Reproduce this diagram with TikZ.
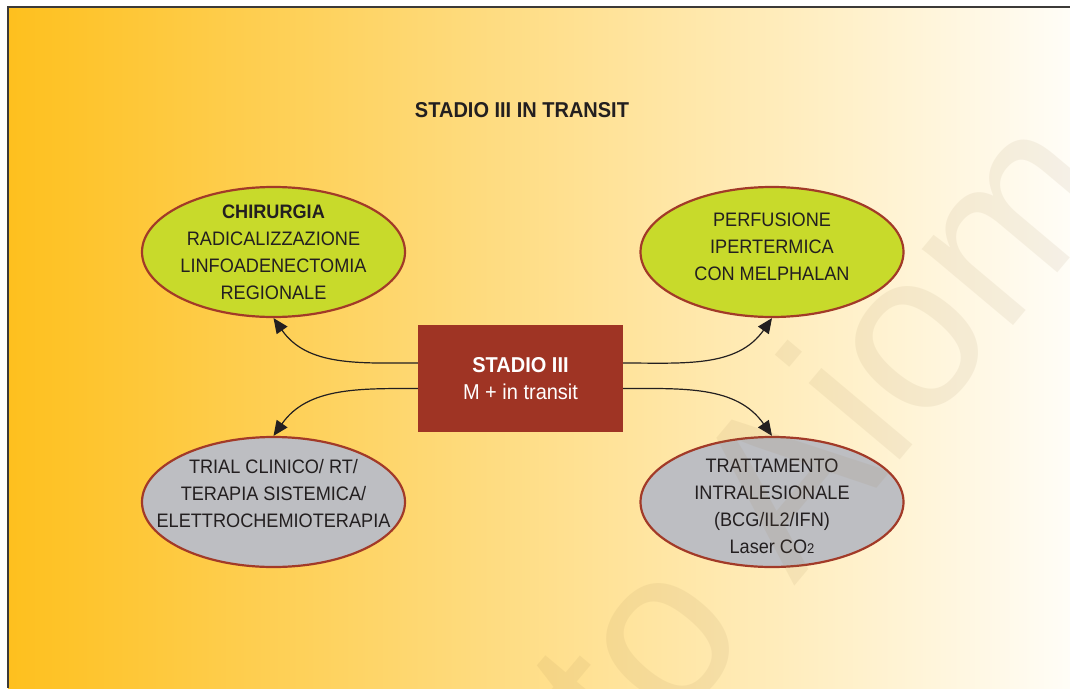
\documentclass[tikz,border=0pt]{standalone}
\usepackage{fontspec}
\setmainfont[FakeStretch=0.93]{Liberation Sans}
\newfontfamily\wmfont{Liberation Sans}
\usepackage{tikz}
\usetikzlibrary{arrows.meta,shapes.geometric}
\definecolor{bgleft}{RGB}{254,192,30}
\definecolor{bgmid}{RGB}{254,220,148}
\definecolor{bgright}{RGB}{255,253,247}
\definecolor{rust}{RGB}{159,52,36}
\definecolor{rim}{RGB}{162,58,40}
\definecolor{leaf}{RGB}{200,218,43}
\definecolor{stone}{RGB}{189,190,194}
\definecolor{ink}{RGB}{35,31,32}
\definecolor{frame}{RGB}{60,58,56}
\definecolor{wmcol}{RGB}{150,118,70}
\newcommand{\sz}[1]{\fontsize{#1}{27}\selectfont}

\begin{document}
\begin{tikzpicture}[x=1pt,y=1pt,
    bub/.style={ellipse,draw=rim,line width=2.2pt,
      minimum width=263pt,minimum height=130pt,inner sep=0pt},
    lbl/.style={text=ink,align=center,font=\sz{19.5}},
    arr/.style={-{Triangle[length=15pt,width=13pt]},line width=1.2pt,ink},
    wmark/.style={rotate=50,text=wmcol,text opacity=0.09,
      font=\wmfont\fontsize{225}{225}\selectfont}]
  \useasboundingbox (0,0) rectangle (1070,-688);
  \shade[left color=bgleft,middle color=bgmid,right color=bgright]
    (8,-7) rectangle (1070,-688);
  \draw[line width=1.5pt,frame] (8,-688) -- (8,-7) -- (1070,-7);

  \node[text=ink,font=\bfseries\fontsize{21.5}{24}\selectfont] (title)
    at (522,-110) {STADIO III IN TRANSIT};

  \node[fill=rust,text=white,align=center,font=\sz{21.5},
    minimum width=205pt,minimum height=107pt,inner sep=0pt] (stadio)
    at (520.5,-378.5) {\textbf{STADIO III}\\M + in transit};

  \node[bub,fill=leaf] (chir) at (273.5,-252) {};
  \node[lbl] (chirt) at (chir)
    {\textbf{CHIRURGIA}\\RADICALIZZAZIONE\\LINFOADENECTOMIA\\REGIONALE};
  \node[bub,fill=leaf] (perf) at (772,-252) {};
  \node[lbl] (perft) at ([yshift=5pt]perf)
    {PERFUSIONE\\IPERTERMICA\\CON MELPHALAN};
  \node[bub,fill=stone] (trial) at (273.5,-502) {};
  \node[lbl] (trialt) at ([yshift=8pt]trial)
    {TRIAL CLINICO/ RT/\\TERAPIA SISTEMICA/\\ELETTROCHEMIOTERAPIA};
  \node[bub,fill=stone] (intra) at (772,-502) {};
  \node[lbl] (intrat) at ([yshift=-4pt]intra)
    {TRATTAMENTO\\INTRALESIONALE\\(BCG/IL2/IFN)\\Laser CO{\fontsize{14}{14}\selectfont 2}};

  \draw[arr] ([yshift=15.5pt]stadio.west) to[out=180,in=-55] (chir.south);
  \draw[arr] ([yshift=-10pt]stadio.west) to[out=180,in=55] (trial.north);
  \draw[arr] ([yshift=15.5pt]stadio.east) to[out=0,in=-125] (perf.south);
  \draw[arr] ([yshift=-10pt]stadio.east) to[out=0,in=125] (intra.north);

  \begin{scope}
    \clip (8,-7) rectangle (1070,-688);
    \node[wmark] (aiom) at (777,-482) {nto Aiom};
  \end{scope}
\end{tikzpicture}
\end{document}
